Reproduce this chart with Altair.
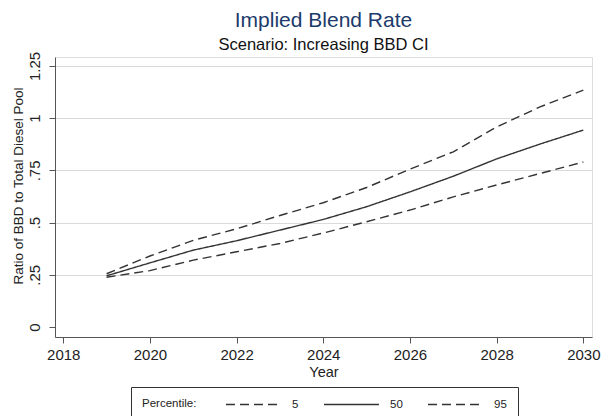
import altair as alt
import pandas as pd

years = list(range(2019, 2031))
p5 = [0.238, 0.27, 0.32, 0.36, 0.40, 0.45, 0.504, 0.56, 0.623, 0.68, 0.735, 0.79]
p50 = [0.245, 0.307, 0.368, 0.413, 0.464, 0.515, 0.576, 0.647, 0.722, 0.805, 0.876, 0.943]
p95 = [0.255, 0.34, 0.415, 0.47, 0.534, 0.595, 0.668, 0.756, 0.839, 0.958, 1.054, 1.134]
percentiles = ["5", "50", "95"]
x_ticks = [2018, 2020, 2022, 2024, 2026, 2028, 2030]
y_ticks = [0, 0.25, 0.5, 0.75, 1, 1.25]

rows = []
for name, vals in zip(percentiles, [p5, p50, p95]):
    for yr, v in zip(years, vals):
        rows.append({"Year": yr, "Ratio": v, "Percentile": name})
df = pd.DataFrame(rows)

FONT = "Liberation Sans"
AX = "#555555"

xscale = alt.Scale(domain=[2017.81, 2030.2], nice=False, zero=False)
yscale = alt.Scale(domain=[-0.048, 1.293], nice=False, zero=False)

chart = alt.Chart(df).mark_line(color="#333333", strokeWidth=1.4).encode(
    x=alt.X(
        "Year:Q",
        scale=xscale,
        axis=alt.Axis(
            values=x_ticks, format="d", grid=False, title="Year",
            labelFontSize=15, titleFontSize=14.5, titleFontWeight="normal",
            labelFont=FONT, titleFont=FONT, labelColor="#222", titleColor="#222",
            domainColor=AX, tickColor=AX, tickSize=6, labelPadding=4,
            titleY=39.7, titleBaseline="alphabetic", labelFlush=False,
        ),
    ),
    y=alt.Y(
        "Ratio:Q",
        scale=yscale,
        axis=alt.Axis(
            values=y_ticks, grid=True, gridColor="#dadada",
            gridOpacity={"condition": {"test": "datum.value === 0", "value": 0}, "value": 1},
            title="Ratio of BBD to Total Diesel Pool",
            labelExpr="datum.value == 0 ? '0' : (datum.value < 1 ? substring(format(datum.value, '.2~f'), 1) : format(datum.value, '~g'))",
            labelAngle=270, labelAlign="center", labelBaseline="alphabetic",
            labelPadding=10, labelFontSize=15, labelFont=FONT, labelColor="#222",
            titleFontSize=13.5, titleFont=FONT, titleFontWeight="normal", titleColor="#222",
            titleAngle=270, titleAlign="center", titleBaseline="alphabetic",
            titleX=-32.5, titleY=128.5,
            domainColor=AX, tickColor=AX, tickSize=6, labelFlush=False,
        ),
    ),
    strokeDash=alt.StrokeDash(
        "Percentile:N",
        scale=alt.Scale(domain=percentiles, range=[[9, 5], [1, 0], [9, 5]]),
        legend=alt.Legend(
            title="Percentile:", orient="none", legendX=76, legendY=330,
            direction="horizontal", titleOrient="left",
            symbolType="M-5,0H5", symbolSize=121, symbolStrokeWidth=1.3,
            symbolStrokeColor="#333333",
            labelFontSize=11.5, titleFontSize=11.5, titleFontWeight="normal",
            labelFont=FONT, titleFont=FONT, labelColor="#222", titleColor="#222",
            titlePadding=50, labelOffset=32, columnPadding=22, padding=11,
            strokeColor="#333333", fillColor="white", cornerRadius=0,
        ),
    ),
).properties(
    width=537,
    height=280,
    padding={"left": 55, "top": 57, "right": 16, "bottom": 79},
    autosize="none",
    title=alt.TitleParams(
        text="Implied Blend Rate",
        subtitle="Scenario: Increasing BBD CI",
        fontSize=21, subtitleFontSize=16.5,
        font=FONT, subtitleFont=FONT,
        fontWeight="normal", color="#1c3b6a", subtitleColor="#111111",
        anchor="middle", frame="group", offset=0, dy=2, subtitlePadding=5.5,
    ),
).configure_view(stroke=None).configure(background="white")

chart.save("out.html", embed_options={"renderer": "svg", "actions": False})
